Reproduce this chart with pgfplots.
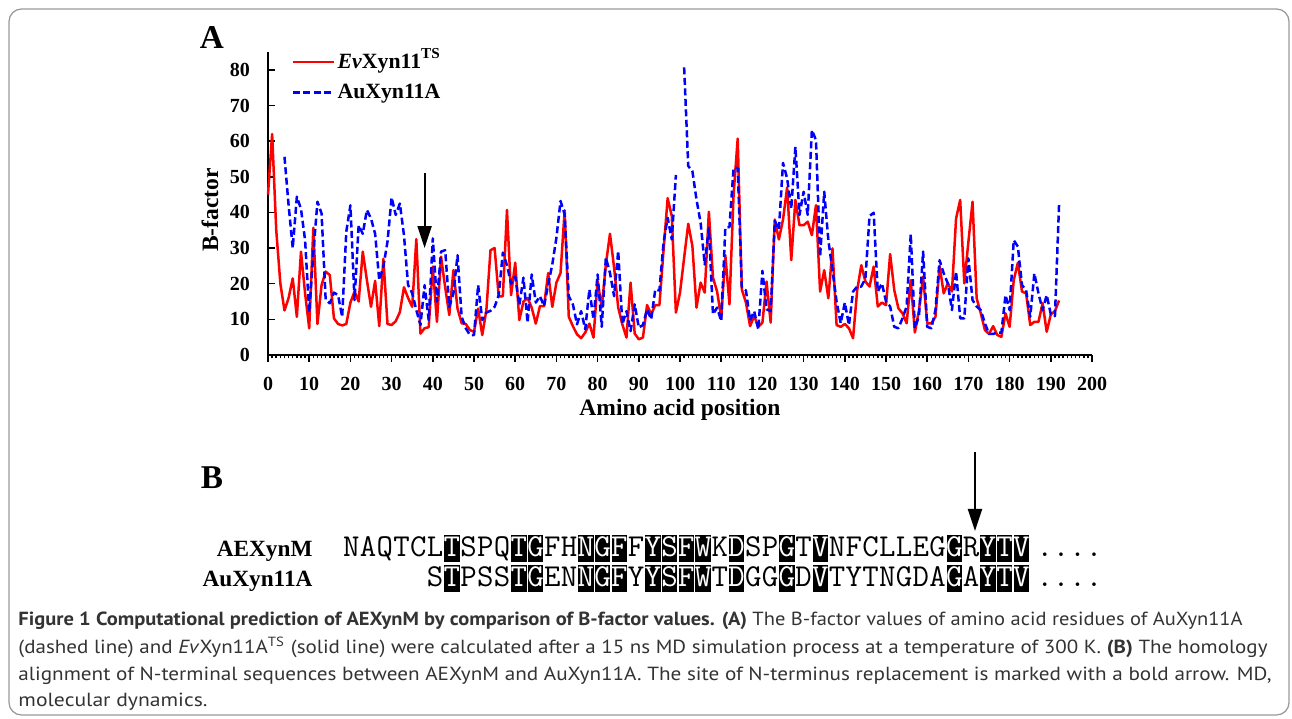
\documentclass[border=0pt]{standalone}
\usepackage{fontspec}
\setmainfont{Liberation Serif}
\newfontfamily\capfont{PT Sans}
\usepackage{graphicx}
\usepackage{pgfplots}
\usepackage{pgfplotstable}
\pgfplotsset{compat=1.18}
\usetikzlibrary{arrows.meta}

\pgfplotstableread{
pos B
0 45
1 62
2 35
3 20
4 12.5
5 16
6 21.5
7 10.7
8 29
9 17.3
10 7.5
11 35.7
12 8.7
13 19.6
14 23.4
15 22.4
16 10.3
17 8.7
18 8.3
19 8.7
20 14.7
21 17.8
22 15
23 29
24 21
25 13.5
26 20.8
27 8.1
28 27
29 8.7
30 8.4
31 9.5
32 12
33 19
34 16
35 13.5
36 32.5
37 6
38 7.5
39 7.8
40 24.8
41 9.3
42 27.6
43 19
44 11.2
45 23.8
46 13
47 8.9
48 8.7
49 7
50 6.5
51 13
52 5.6
53 12.6
54 29.4
55 30
56 16.4
57 16.5
58 40.7
59 16.8
60 25.9
61 9.8
62 15
63 16
64 13.3
65 8.8
66 13.7
67 13.7
68 23
69 13.5
70 20.3
71 23
72 40.6
73 10.7
74 8.1
75 5.8
76 4.7
77 6.3
78 8.8
79 4.9
80 20.7
81 13.3
82 25.4
83 34
84 24.5
85 13.3
86 8.6
87 4.9
88 20.3
89 6
90 4.4
91 4.9
92 14
93 11.4
94 14
95 14
96 29.3
97 44
98 39
99 11.9
100 17.5
101 27.3
102 36.8
103 30.6
104 13.3
105 20.3
106 17.5
107 40.2
108 21.7
109 17.8
110 10.5
111 28
112 14.2
113 45
114 60.7
115 18.4
116 14.7
117 8.1
118 10.9
119 7.9
120 9.1
121 20.6
122 9.1
123 38
124 32.4
125 38
126 47
127 26.6
128 43.5
129 36.4
130 36.4
131 37.4
132 33.6
133 42
134 17.8
135 23.8
136 15.9
137 29.9
138 8.4
139 7.9
140 8.7
141 7.5
142 4.7
143 18.2
144 25.2
145 20.6
146 19.2
147 24.8
148 13.6
149 14.7
150 14
151 28.3
152 18.2
153 13.1
154 11.7
155 8.9
156 21
157 6.3
158 12.6
159 22
160 8.9
161 8.9
162 10.7
163 25
164 17.3
165 20.1
166 17.8
167 38.3
168 43.5
169 20.1
170 31.8
171 43
172 15.9
173 11.7
174 7
175 5.9
176 8.1
177 5.6
178 5.1
179 11.7
180 7.9
181 21
182 25.9
183 17.8
184 17.3
185 8.4
186 9.3
187 9.3
188 14.5
189 6.5
190 11.4
191 12.3
192 15.3
}\redtab

\pgfplotstableread{
pos B
4 55.6
5 42
6 30
7 44.4
8 41
9 32.2
10 12
11 28.5
12 43
13 39.7
14 15.4
15 14.5
16 17.5
17 16.8
18 10.7
19 34.6
20 42
21 15.4
22 36.4
23 34
24 40.7
25 38.3
26 34
27 21
28 24.8
29 31.8
30 44.2
31 39.3
32 42.5
33 33.6
34 19.6
35 17.3
36 12.6
37 8.4
38 19.6
39 9.8
40 32.7
41 15
42 29
43 29.4
44 13.5
45 17.3
46 28
47 10.7
48 7.5
49 5.6
50 5.6
51 19.6
52 9.8
53 11.9
54 12.4
55 13.5
56 16.8
57 28.7
58 25.2
59 20
60 22
61 14
62 21.7
63 9.1
64 22.6
65 14.7
66 16.5
67 13.7
68 19.8
69 25.4
70 32.9
71 43.2
72 39.4
73 16.5
74 14.2
75 8.6
76 12.3
77 7.2
78 18.4
79 10
80 22.6
81 7.9
82 27.3
83 23
84 16.5
85 29.2
86 8.6
87 12.3
88 6.7
89 14.2
90 7.7
91 8.4
92 12.8
93 10
94 18.4
95 18.1
96 31.5
97 38.5
98 32.4
99 50.5
100 nan
101 80.7
102 53
103 51.6
104 43.6
105 37.1
106 25.4
107 35.7
108 11.4
109 13.3
110 9.5
111 35.7
112 35.9
113 52.5
114 52.5
115 18.9
116 18.1
117 9.7
118 12.3
119 7.2
120 23.6
121 12.8
122 12.3
123 37.6
124 35.2
125 53.9
126 49.5
127 41
128 58.4
129 39.3
130 45.8
131 39.3
132 63.1
133 60.3
134 27.6
135 45.8
136 32.2
137 23.8
138 15
139 8.9
140 14.7
141 8.4
142 17.8
143 19.2
144 19.2
145 21.5
146 39
147 39.9
148 17.8
149 20.1
150 15
151 13.6
152 7.9
153 7.5
154 10.3
155 13.6
156 33.9
157 7.5
158 10.9
159 29
160 7.9
161 7.5
162 12.6
163 26.6
164 22.9
165 20.1
166 12.6
167 23.4
168 10.3
169 10.3
170 27.1
171 15.4
172 13.6
173 12.6
174 8.9
175 5.9
176 5.9
177 6.3
178 6.3
179 16.8
180 12.6
181 32.2
182 30.4
183 19.6
184 18.2
185 10.7
186 22.9
187 17.3
188 12.6
189 16.8
190 11.4
191 10.9
192 42.2
}\bluetab

\begin{document}
\begin{tikzpicture}[x=0.4pt,y=0.4pt]
\path[use as bounding box] (0,0) rectangle (1292,719);
% frame
\draw[gray!80, line width=0.5pt, rounded corners=5pt] (9,710) rectangle (1289,4);

% panel letters
\node[font=\bfseries\fontsize{13.3pt}{15pt}\selectfont, inner sep=0pt] at (212,681) {A};
\node[font=\bfseries\fontsize{13.3pt}{15pt}\selectfont, inner sep=0pt] at (212,241) {B};

\begin{axis}[
  at={(107.2pt,145.6pt)}, anchor=south west,
  scale only axis, width=329.6pt, height=121.2pt,
  xmin=0, xmax=200, ymin=0, ymax=85,
  axis x line*=bottom, axis y line*=left,
  axis line style={line width=0.8pt},
  xtick={0,10,...,200}, ytick={0,10,...,80},
  minor x tick num=9,
  xtick align=outside, ytick align=inside,
  major tick length=2.8pt, minor tick length=1.4pt,
  every tick/.style={line width=0.6pt, black},
  /pgf/number format/assume math mode=true,
  tick label style={font=\bfseries\fontsize{8pt}{9.6pt}\selectfont},
  xticklabel style={yshift=-2.5pt},
  yticklabel style={xshift=-3.7pt},
  xlabel={Amino acid position}, ylabel={B-factor},
  label style={font=\bfseries\fontsize{9.4pt}{11pt}\selectfont},
  xlabel style={at={(axis description cs:0.5,-0.1815)}, anchor=center},
  ylabel style={at={(axis description cs:-0.0704,0.4785)}, anchor=center},
  unbounded coords=jump,
  clip=false,
  legend style={at={(axis cs:5.6,86.2)}, anchor=north west, draw=none, fill=none,
    font=\bfseries\fontsize{8.7pt}{10pt}\selectfont, row sep=1.2pt, inner sep=0pt,
    nodes={inner sep=1pt, text height=7pt, text depth=2pt}},
  legend cell align=left,
  legend image code/.code={\draw[#1] (0pt,0pt) -- (16.4pt,0pt);},
]
\addplot[red, line width=1pt, line join=round] table[x=pos, y=B] {\redtab};
\addlegendentry{\textit{Ev}Xyn11\textsuperscript{TS}}
\addplot[blue, line width=1pt, dash pattern=on 2.8pt off 1.4pt, line join=round] table[x=pos, y=B] {\bluetab};
\addlegendentry{AuXyn11A}
\draw[-{Triangle[length=8.8pt,width=5.6pt]}, line width=0.8pt] (axis cs:38,51) -- (axis cs:38,30);
\end{axis}

% panel B arrow
\draw[-{Triangle[length=8.8pt,width=5.6pt]}, line width=0.8pt] (975,267) -- (975,188);

% sequence labels
\node[anchor=base east, inner sep=0pt, font=\bfseries\fontsize{9.3pt}{11pt}\selectfont] at (313,162) {AEXynM};
\node[anchor=base east, inner sep=0pt, font=\bfseries\fontsize{9.3pt}{11pt}\selectfont] at (313,132) {AuXyn11A};

% row 1
\foreach \ch/\h [count=\i from 0] in {N/0,A/0,Q/0,T/0,C/0,L/0,T/1,S/0,P/0,Q/0,T/1,G/1,F/0,H/0,N/1,G/1,F/1,F/0,Y/1,S/1,F/1,W/1,K/0,D/1,S/0,P/0,G/1,T/0,V/1,N/0,F/0,C/0,L/0,L/0,E/0,G/0,G/1,R/0,Y/1,T/1,V/1} {
  \pgfmathsetmacro\xl{343+16.75*\i}
  \ifnum\h=1 \def\tc{white}\fill[black] (\xl+0.7,157) rectangle (\xl+16.05,184);\else\def\tc{black}\fi
  \node[anchor=base, inner sep=0pt, text=\tc, font=\ttfamily\fontsize{12.76pt}{14pt}\selectfont] at (\xl+8.375,162) {\ch};
}
% row 2
\foreach \ch/\h [count=\i from 5] in {S/0,T/1,P/0,S/0,S/0,T/1,G/1,E/0,N/0,N/1,G/1,F/1,Y/0,Y/1,S/1,F/1,W/1,T/0,D/1,G/0,G/0,G/1,D/0,V/1,T/0,Y/0,T/0,N/0,G/0,D/0,A/0,G/1,A/0,Y/1,T/1,V/1} {
  \pgfmathsetmacro\xl{343+16.75*\i}
  \ifnum\h=1 \def\tc{white}\fill[black] (\xl+0.7,127) rectangle (\xl+16.05,154);\else\def\tc{black}\fi
  \node[anchor=base, inner sep=0pt, text=\tc, font=\ttfamily\fontsize{12.76pt}{14pt}\selectfont] at (\xl+8.375,132) {\ch};
}
\node[anchor=base west, inner sep=0pt, font=\ttfamily\fontsize{12.76pt}{14pt}\selectfont] at (1036,162) {....};
\node[anchor=base west, inner sep=0pt, font=\ttfamily\fontsize{12.76pt}{14pt}\selectfont] at (1036,132) {....};

% caption
\begin{scope}[every node/.style={anchor=base west, inner sep=0pt, text=black!80, font=\capfont\fontsize{7.6pt}{9pt}\selectfont}]
\node at (18,93) {\resizebox{489.6pt}{\height}{\textbf{Figure 1 Computational prediction of AEXynM by comparison of B-factor values. (A)} The B-factor values of amino acid residues of AuXyn11A}};
\node at (18,65) {\resizebox{499.6pt}{\height}{(dashed line) and \textit{Ev}Xyn11A\textsuperscript{TS} (solid line) were calculated after a 15 ns MD simulation process at a temperature of 300 K. \textbf{(B)} The homology}};
\node at (18,38) {\resizebox{501.2pt}{\height}{alignment of N-terminal sequences between AEXynM and AuXyn11A. The site of N-terminus replacement is marked with a bold arrow. MD,}};
\node at (18,12) {\resizebox{75.6pt}{\height}{molecular dynamics.}};
\end{scope}
\end{tikzpicture}
\end{document}
